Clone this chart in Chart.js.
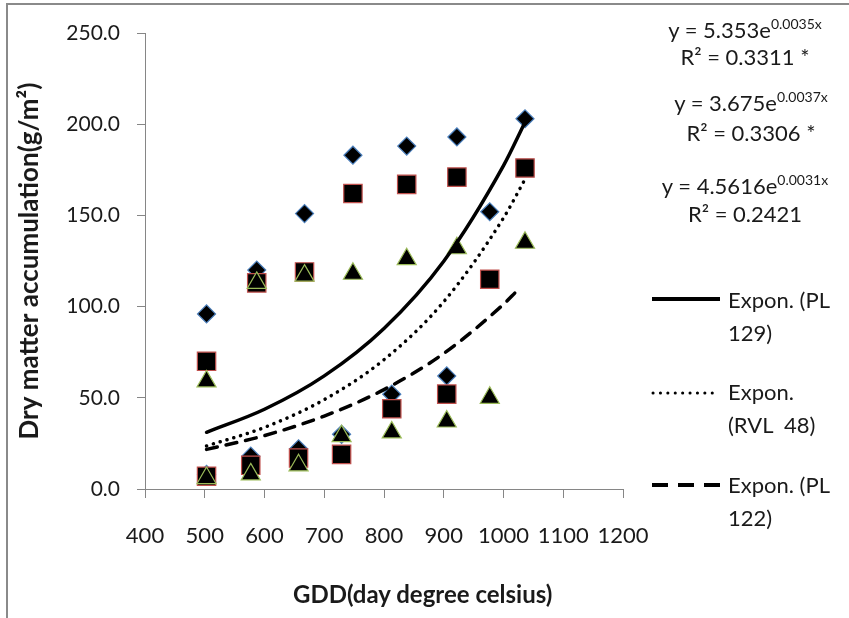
<!doctype html>
<html lang="en">
 <head>
  <meta charset="utf-8">
  <style>
body { margin: 0; background: #fff; font-family: Lato, sans-serif; color: #1a1a1a; }
.wrap { position: relative; width: 849px; height: 618px; overflow: hidden; }
/* grey frame of the original screenshot */
.frame { position: absolute; left: 6px; top: 3px; right: -5px; bottom: -5px;
 border-left: 2px solid #8a8a8a; border-top: 2px solid #8a8a8a; }
.txt { position: absolute; white-space: nowrap; line-height: 1; font-size: 22px; transform: translateY(-50%); }
.eq { transform: translate(-50%, -50%); }
.eq sup { font-size: 14px; vertical-align: 0; position: relative; top: -9px; }
.leg { font-size: 22px; }
.xtitle { font-weight: bold; font-size: 24px; }
canvas { position: absolute; left: 0; top: 0; }
  </style>
  <title>Dry matter accumulation vs GDD</title>
 </head>
 <body>
  <div class="wrap">
   <div class="frame"></div>
   <canvas id="dmchart" width="849" height="618"></canvas>

   <div class="txt eq" style="left:745px; top:30px">y = 5.353e<sup>0.0035x</sup></div>
   <div class="txt eq" style="left:745px; top:57px">R² = 0.3311 *</div>
   <div class="txt eq" style="left:751px; top:103px">y = 3.675e<sup>0.0037x</sup></div>
   <div class="txt eq" style="left:751px; top:133px">R² = 0.3306 *</div>
   <div class="txt eq" style="left:745px; top:186px">y = 4.5616e<sup>0.0031x</sup></div>
   <div class="txt eq" style="left:745px; top:214px">R² = 0.2421</div>

   <div class="txt leg" style="left:728px; top:300px">Expon. (PL</div>
   <div class="txt leg" style="left:728px; top:333px">129)</div>
   <div class="txt leg" style="left:728px; top:392px">Expon.</div>
   <div class="txt leg" style="left:728px; top:425px">(RVL&nbsp; 48)</div>
   <div class="txt leg" style="left:728px; top:485px">Expon. (PL</div>
   <div class="txt leg" style="left:728px; top:518px">122)</div>

   <div class="txt xtitle" style="left:293px; top:594px">GDD(day degree celsius)</div>
  </div>

  <script src="https://cdn.jsdelivr.net/npm/chart.js@4.4.1/dist/chart.umd.min.js"></script>
  <script>
// GDD of the sampling dates, two groups of samplings
var xGroupA = [503, 587, 667, 748, 838, 922, 977, 1036];
var xGroupB = [503, 577, 657, 729, 813, 905];

// dry matter (g/m2)
var pl129A = [96, 120, 151, 183, 188, 193, 152, 203];
var pl129B = [8, 18, 22, 30, 52, 62];
var rvl48A = [70, 113, 119, 162, 167, 171, 115, 176];
var rvl48B = [7, 13, 17, 19, 44, 52];
var pl122A = [59, 113, 117, 118, 126, 132, 50, 135];
var pl122B = [6, 8, 13, 29, 31, 37];

// exponential trendlines, values
var trendX = [503, 600, 700, 800, 900, 1000, 1036];
var trendPL129 = [31.1, 43.7, 62.0, 88.0, 124.9, 177.3, 201.1];
var trendRVL48 = [23.6, 33.8, 49.0, 70.9, 102.7, 148.6, 169.8];
var trendX122 = [503, 600, 700, 800, 900, 1000, 1021];
var trendPL122 = [21.7, 29.3, 40.0, 54.5, 74.3, 101.3, 108.1];

function pts(xs, ys) {
  return xs.map(function (x, i) { return { x: x, y: ys[i] }; });
}

const AXIS_GREY = '#868686';
const TEXT = '#1a1a1a';

function trend(label, xs, ys, dash, cap) {
  return {
    label: label,
    data: pts(xs, ys),
    showLine: true,
    pointRadius: 0,
    borderColor: '#000',
    borderWidth: 3.5,
    borderDash: dash,
    borderCapStyle: cap,
    cubicInterpolationMode: 'monotone',
    order: -1
  };
}

// draws the line samples of the right-hand legend
const legendLines = {
  id: 'legendLines',
  afterDraw(chart) {
    const ctx = chart.ctx;
    ctx.save();
    ctx.strokeStyle = '#000';
    // solid
    ctx.lineWidth = 4;
    ctx.beginPath(); ctx.moveTo(652, 299); ctx.lineTo(720, 299); ctx.stroke();
    // dotted
    ctx.lineWidth = 3;
    ctx.lineCap = 'round';
    ctx.setLineDash([0.1, 7.3]);
    ctx.beginPath(); ctx.moveTo(653, 393); ctx.lineTo(717, 393); ctx.stroke();
    // dashed
    ctx.lineCap = 'butt';
    ctx.lineWidth = 4;
    ctx.setLineDash([16, 10]);
    ctx.beginPath(); ctx.moveTo(652, 485); ctx.lineTo(721, 485); ctx.stroke();
    ctx.restore();
  }
};

const chartConfig = {
  type: 'scatter',
  data: {
    datasets: [
      trend('Expon. (PL 129)', trendX, trendPL129, [], 'round'),
      trend('Expon. (RVL 48)', trendX, trendRVL48, [0.1, 7], 'round'),
      trend('Expon. (PL 122)', trendX122, trendPL122, [11, 9], 'round'),
      {
        label: 'PL 122',
        data: pts(xGroupA, pl122A).concat(pts(xGroupB, pl122B)),
        pointStyle: 'triangle',
        pointRadius: 11,
        backgroundColor: '#000',
        borderColor: '#9BBB59',
        borderWidth: 1.2,
        order: 0
      },
      {
        label: 'RVL 48',
        data: pts(xGroupA, rvl48A).concat(pts(xGroupB, rvl48B)),
        pointStyle: 'rect',
        pointRadius: 13,
        backgroundColor: '#000',
        borderColor: '#C0504D',
        borderWidth: 1.2,
        order: 1
      },
      {
        label: 'PL 129',
        data: pts(xGroupA, pl129A).concat(pts(xGroupB, pl129B)),
        pointStyle: 'rectRot',
        pointRadius: 9,
        backgroundColor: '#000',
        borderColor: '#4A7EBB',
        borderWidth: 1.2,
        order: 2
      }
    ]
  },
  options: {
    responsive: false,
    animation: false,
    devicePixelRatio: 1,
    layout: { padding: { top: 33, right: 226, bottom: 0, left: 0 } },
    plugins: {
      legend: { display: false },
      tooltip: { enabled: false }
    },
    scales: {
      x: {
        type: 'linear',
        min: 400,
        max: 1200,
        ticks: {
          stepSize: 100,
          autoSkip: false,
          maxRotation: 0,
          color: TEXT,
          padding: 25,
          font: { family: 'Lato', size: 22 },
          callback: function (v) { return String(v); }
        },
        grid: { drawOnChartArea: false, color: AXIS_GREY, tickLength: 9 },
        border: { color: AXIS_GREY },
        afterFit: function (scale) { scale.height = 129; }
      },
      y: {
        type: 'linear',
        min: 0,
        max: 250,
        ticks: {
          stepSize: 50,
          color: TEXT,
          padding: 17,
          font: { family: 'Lato', size: 21 },
          callback: function (v) { return v.toFixed(1); }
        },
        grid: { drawOnChartArea: false, color: AXIS_GREY, tickLength: 8 },
        border: { color: AXIS_GREY },
        title: {
          display: true,
          text: 'Dry matter accumulation(g/m²)',
          color: TEXT,
          font: { family: 'Lato', size: 26, weight: 'bold' },
          padding: { top: 14, bottom: 0 }
        },
        afterFit: function (scale) { scale.width = 145; }
      }
    }
  },
  plugins: [legendLines]
};

const dmChart = new Chart(document.getElementById('dmchart'), chartConfig);
  </script>
 </body>
</html>
